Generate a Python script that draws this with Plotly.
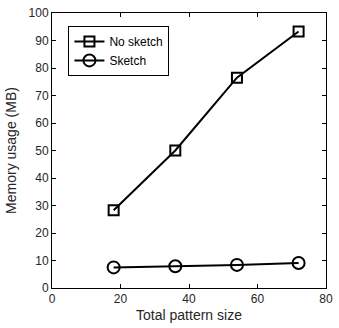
import plotly.graph_objects as go

pattern_size = [18, 36, 54, 72]
no_sketch_mb = [28.3, 50.0, 76.5, 93.3]
sketch_mb = [7.5, 7.9, 8.4, 9.1]

fig = go.Figure()
fig.add_trace(go.Scatter(
    x=pattern_size, y=no_sketch_mb, name="No sketch", mode="lines+markers",
    line=dict(color="black", width=2),
    marker=dict(symbol="square-open", size=10, color="black", line=dict(width=2, color="black")),
))
fig.add_trace(go.Scatter(
    x=pattern_size, y=sketch_mb, name="Sketch", mode="lines+markers",
    line=dict(color="black", width=2),
    marker=dict(symbol="circle-open", size=12, color="black", line=dict(width=2, color="black")),
))

axis_common = dict(
    showline=True, linecolor="black", linewidth=1, mirror="ticks",
    ticks="inside", ticklen=4, tickcolor="black", showgrid=False, zeroline=False,
    tickfont=dict(size=12, color="#262626"),
)
fig.update_layout(
    width=339, height=328,
    margin=dict(l=52, r=6, t=11, b=40),
    paper_bgcolor="white", plot_bgcolor="white",
    font=dict(family="Liberation Sans, Arial, sans-serif", size=12, color="#262626"),
    xaxis=dict(range=[0, 80], dtick=20, title=dict(text="Total pattern size", standoff=4), **axis_common),
    yaxis=dict(range=[0, 100], dtick=10, title=dict(text="Memory usage (MB)", standoff=8), **axis_common),
    legend=dict(x=0.06, y=0.953, xanchor="left", yanchor="top", bgcolor="white",
                bordercolor="black", borderwidth=1, font=dict(size=12, color="black"),
                tracegroupgap=0, itemwidth=30),
    showlegend=True,
)
fig.write_html("out.html", config={"displayModeBar": False},
               post_script="document.body.style.margin='0px';document.body.style.padding='0px';")
